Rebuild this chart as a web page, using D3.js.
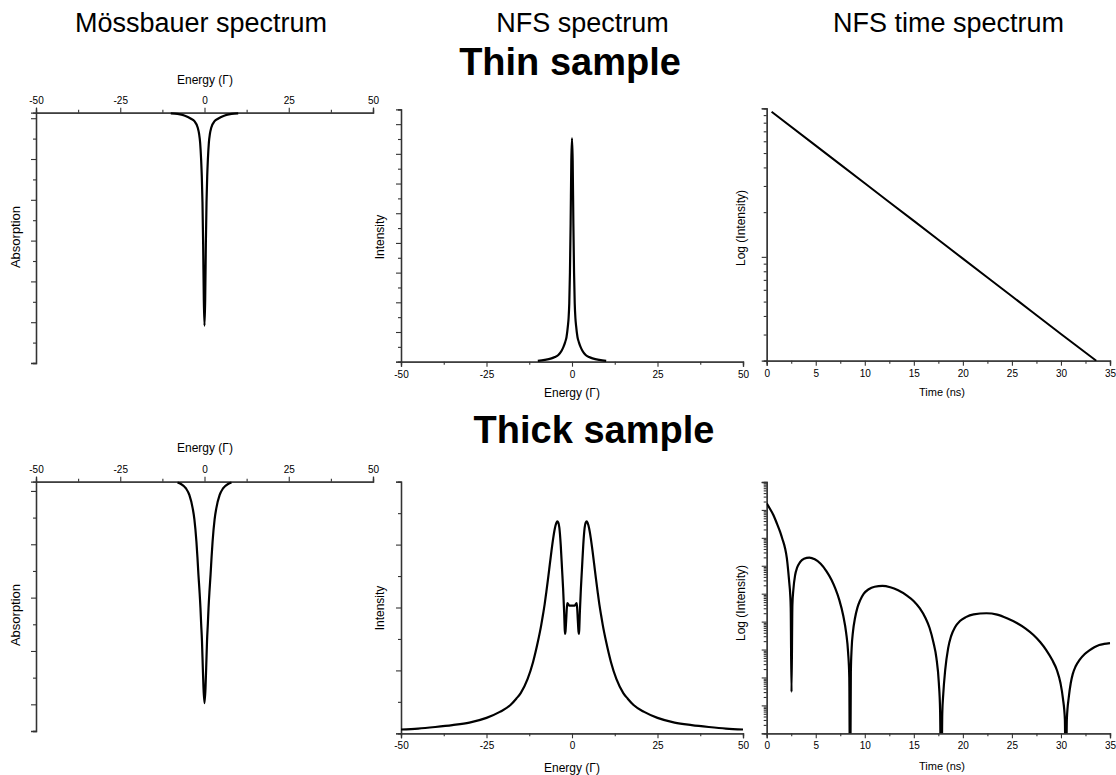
<!DOCTYPE html>
<html><head><meta charset="utf-8">
<script src="https://cdn.jsdelivr.net/npm/d3@7/dist/d3.min.js"></script>
<style>
body{margin:0;background:#fff}
svg{display:block}
text{font-family:Arial,"Liberation Sans",sans-serif;fill:#000}
</style>
</head><body>
<svg id="c" width="1116" height="775"></svg>
<script>
// ---------------- DATA ----------------
// Thin sample – Mössbauer absorption spectrum (energy in Γ, absorption)
const thinMossEnergy = [-10,-8,-6,-4,-3,-2,-1.6,-1.3,-1,-0.8,-0.6,-0.4,-0.2,0,0.2,0.4,0.6,0.8,1,1.3,1.6,2,3,4,6,8,10];
const thinMossAbs    = [0.0026,0.005,0.011,0.024,0.034,0.060,0.085,0.119,0.187,0.255,0.357,0.528,0.749,0.851,0.749,0.528,0.357,0.255,0.187,0.119,0.085,0.060,0.034,0.024,0.011,0.005,0.0026];
// Thin sample – NFS energy spectrum
const thinNfsEnergy = [-10,-8,-6,-5,-4,-3,-2.5,-2,-1.6,-1.2,-1,-0.8,-0.6,-0.4,-0.2,0,0.2,0.4,0.6,0.8,1,1.2,1.6,2,2.5,3,4,5,6,8,10];
const thinNfsInt    = [0.006,0.012,0.0226,0.0316,0.0452,0.0753,0.0993,0.132,0.166,0.241,0.293,0.391,0.602,0.933,1.354,1.505,1.354,0.933,0.602,0.391,0.293,0.241,0.166,0.132,0.0993,0.0753,0.0452,0.0316,0.0226,0.012,0.006];
// Thin sample – NFS time spectrum (log10 intensity)
const thinTime       = [0.5,5,10,15,20,25,30,33.6];
const thinTimeLogInt = [1.977,1.749,1.495,1.242,0.988,0.735,0.481,0.301];
// Thick sample – Mössbauer absorption spectrum
const thickMossEnergy = [-8,-7,-5.5,-4.5,-3.5,-3,-2.4,-2.1,-1.8,-1.5,-1.2,-1,-0.75,-0.5,-0.3,0,0.3,0.5,0.75,1,1.2,1.5,1.8,2.1,2.4,3,3.5,4.5,5.5,7,8];
const thickMossAbs    = [0.003,0.009,0.027,0.053,0.107,0.151,0.240,0.302,0.373,0.435,0.506,0.568,0.639,0.746,0.826,0.888,0.826,0.746,0.639,0.568,0.506,0.435,0.373,0.302,0.240,0.151,0.107,0.053,0.027,0.009,0.003];
// Thick sample – NFS energy spectrum
const thickNfsEnergy = [-50,-45,-40,-35,-30,-25,-21.1,-18,-16.3,-15,-13,-11.4,-10,-9,-8.5,-8,-7.5,-7,-6.5,-6,-5.5,-5,-4.6,-4.3,-4,-3.7,-3.3,-2.9,-2.6,-2.3,-2.1,-2,-1.9,-1.7,-1.5,-1.35,-0.8,0,
                         0.8,1.35,1.5,1.7,1.9,2,2.1,2.3,2.6,2.9,3.3,3.7,4,4.3,4.6,5,5.5,6,6.5,7,7.5,8,8.5,9,10,11.4,13,15,16.3,18,21.1,25,30,35,40,45,50];
const thickNfsInt    = [0.06,0.075,0.10,0.13,0.17,0.245,0.34,0.45,0.55,0.64,0.86,1.13,1.45,1.72,1.88,2.05,2.25,2.46,2.68,2.90,3.10,3.26,3.34,3.37,3.35,3.27,3.0,2.6,2.3,1.93,1.63,1.58,1.62,1.8,2.0,2.07,2.03,2.03,
                         2.03,2.07,2.0,1.8,1.62,1.58,1.63,1.93,2.3,2.6,3.0,3.27,3.35,3.37,3.34,3.26,3.10,2.90,2.68,2.46,2.25,2.05,1.88,1.72,1.45,1.13,0.86,0.64,0.55,0.45,0.34,0.245,0.17,0.13,0.10,0.075,0.06];
// Thick sample – NFS time spectrum (quantum beats, log10 intensity)
const thickTime = [0,0.3,0.68,1.0,1.36,1.6,1.87,2.05,2.2,2.3,2.4,2.45,2.53,2.62,2.72,2.9,3.1,3.4,3.8,4.35,4.9,5.5,6.1,6.6,7.0,7.4,7.8,8.1,8.3,8.42,8.5,
                   8.58,8.66,8.8,9.0,9.25,9.51,9.9,10.4,11.0,11.8,12.6,13.4,14.3,15.0,15.6,16.2,16.6,17.0,17.3,17.55,17.68,17.8,
                   17.9,18.0,18.2,18.5,18.8,19.2,19.7,20.3,21.1,22.4,23.5,24.5,25.5,26.4,27.2,27.9,28.5,29.1,29.6,29.95,30.2,30.4,30.5,
                   30.6,30.8,31.0,31.2,31.5,31.9,32.4,32.9,33.4,33.9,34.4,35];
const thickTimeLogInt = [0.24,0.06,-0.18,-0.45,-0.78,-1.04,-1.37,-1.72,-2.21,-2.6,-3.05,-3.52,-6.52,-3.4,-2.85,-2.33,-2.07,-1.87,-1.75,-1.71,-1.77,-1.93,-2.2,-2.5,-2.82,-3.22,-3.78,-4.4,-5.1,-6.0,-11,
                   -5.8,-4.96,-4.35,-3.88,-3.5,-3.25,-3.0,-2.84,-2.75,-2.72,-2.77,-2.88,-3.07,-3.27,-3.52,-3.88,-4.22,-4.75,-5.3,-6.2,-7.2,-11,
                   -7.3,-6.6,-5.73,-4.95,-4.52,-4.2,-3.98,-3.84,-3.74,-3.70,-3.75,-3.88,-4.05,-4.25,-4.48,-4.74,-5.02,-5.37,-5.75,-6.2,-6.75,-7.5,-11,
                   -7.5,-6.7,-6.2,-5.88,-5.6,-5.37,-5.17,-5.03,-4.92,-4.84,-4.8,-4.77];

// Tick labels
const energyTicks = [-50,-25,0,25,50];
const energyMinor = [-37.5,-12.5,12.5,37.5];
const timeTicks = [0,5,10,15,20,25,30,35];
const timeMinor = [2.5,7.5,12.5,17.5,22.5,27.5,32.5];

// Texts
const colTitles = ["Mössbauer spectrum","NFS spectrum","NFS time spectrum"];
const rowTitles = ["Thin sample","Thick sample"];

// ---------------- DRAWING ----------------
const svg = d3.select('#c');
const AX = '#333';
let clipN = 0;

function zip(a,b){ return a.map((v,i)=>[v,b[i]]); }

function xAxis(x, yPos, top, major, minor){
  const mk = () => top ? d3.axisTop(x) : d3.axisBottom(x);
  svg.append('g').attr('transform',`translate(0,${yPos})`)
    .call(mk().tickValues(major).tickSize(5).tickPadding(4).tickFormat(d=>String(d)));
  svg.append('g').attr('transform',`translate(0,${yPos})`)
    .call(mk().tickValues(minor).tickSize(3).tickFormat(''));
}
function yAxis(y, xPos, major, minor){
  svg.append('g').attr('transform',`translate(${xPos},0)`)
    .call(d3.axisLeft(y).tickValues(major).tickSize(5).tickFormat(''));
  svg.append('g').attr('transform',`translate(${xPos},0)`)
    .call(d3.axisLeft(y).tickValues(minor).tickSize(3).tickFormat(''));
}
function logTicks(lo, hi){
  const maj=[], mn=[];
  for(let e=Math.floor(lo); e<=Math.ceil(hi); e++){
    for(let k=1;k<=9;k++){
      const v = e + Math.log10(k);
      if(v < lo-1e-9 || v > hi+1e-9) continue;
      (k===1 ? maj : mn).push(v);
    }
  }
  return [maj, mn];
}
function curve(x,y,data,clipRect,w){
  const id='cl'+(clipN++);
  svg.append('clipPath').attr('id',id).append('rect')
    .attr('x',clipRect[0]).attr('y',clipRect[1]).attr('width',clipRect[2]).attr('height',clipRect[3]);
  svg.append('path').datum(data)
    .attr('clip-path',`url(#${id})`)
    .attr('fill','none').attr('stroke','#000').attr('stroke-width',w||2).attr('stroke-linejoin','round')
    .attr('d',d3.line().x(d=>x(d[0])).y(d=>y(d[1])).curve(d3.curveMonotoneX));
}
function label(txt,x,y,size,rot,weight){
  const t = svg.append('text').text(txt).attr('font-size',size).attr('text-anchor','middle')
    .attr('dominant-baseline','central');
  if(weight) t.attr('font-weight',weight);
  if(rot) t.attr('transform',`translate(${x},${y}) rotate(-90)`);
  else t.attr('x',x).attr('y',y);
  return t;
}

// Titles
label(colTitles[0],201,23,27);
label(colTitles[1],582.5,23,27);
label(colTitles[2],948.5,23,27);
svg.append('text').text(rowTitles[0]).attr('x',570).attr('y',75).attr('text-anchor','middle').attr('font-size',38).attr('font-weight','bold');
svg.append('text').text(rowTitles[1]).attr('x',594).attr('y',443).attr('text-anchor','middle').attr('font-size',38).attr('font-weight','bold');

// ---- Panel 1: thin Mössbauer ----
{
  const x = d3.scaleLinear().domain([-50,50]).range([36,373]);
  const y = d3.scaleLinear().domain([0,1]).range([112.7,363]);
  const tk = d3.range(13).map(k=>1-k*0.0815);
  yAxis(y,36,tk.filter((d,i)=>i%2===0),tk.filter((d,i)=>i%2===1));
  xAxis(x,112.7,true,energyTicks,energyMinor);
  curve(x,y,zip(thinMossEnergy,thinMossAbs),[36,100,337,270],2.2);
  label('Energy (Γ)',205,80,12);
  label('Absorption',15,237,13,true);
}
// ---- Panel 2: thin NFS ----
{
  const x = d3.scaleLinear().domain([-50,50]).range([401,743]);
  const y = d3.scaleLinear().domain([0,1.7]).range([361.7,109.3]);
  const tk = d3.range(18).map(k=>k*0.1);
  yAxis(y,401,tk.filter((d,i)=>i%2===0),tk.filter((d,i)=>i%2===1));
  xAxis(x,361.7,false,energyTicks,energyMinor);
  curve(x,y,zip(thinNfsEnergy,thinNfsInt),[401,100,342,262],2.2);
  label('Energy (Γ)',572,393,12);
  label('Intensity',380,237,12,true);
}
// ---- Panel 3: thin time ----
{
  const x = d3.scaleLinear().domain([0,35]).range([766.7,1110]);
  const y = d3.scaleLinear().domain([Math.log10(2),2]).range([360.7,108.3]);
  const [maj,mn] = logTicks(Math.log10(2),2);
  yAxis(y,766.7,maj,mn);
  xAxis(x,360.7,false,timeTicks,timeMinor);
  curve(x,y,zip(thinTime,thinTimeLogInt),[766.7,100,344,261],2);
  label('Time (ns)',942,392,11);
  label('Log (Intensity)',741,228,12,true);
}
// ---- Panel 4: thick Mössbauer ----
{
  const x = d3.scaleLinear().domain([-50,50]).range([36,373]);
  const y = d3.scaleLinear().domain([0,1]).range([481.7,731]);
  const tk = d3.range(10).map(k=>1-k*0.107);
  yAxis(y,36,tk.filter((d,i)=>i%2===1),tk.filter((d,i)=>i%2===0));
  xAxis(x,481.7,true,energyTicks,energyMinor);
  curve(x,y,zip(thickMossEnergy,thickMossAbs),[36,470,337,262],2.2);
  label('Energy (Γ)',205,448,12);
  label('Absorption',15,615,13,true);
}
// ---- Panel 5: thick NFS ----
{
  const x = d3.scaleLinear().domain([-50,50]).range([401,743]);
  const y = d3.scaleLinear().domain([0,4]).range([733.3,481.7]);
  const tk = d3.range(9).map(k=>k*0.5);
  yAxis(y,401,tk.filter((d,i)=>i%2===0),tk.filter((d,i)=>i%2===1));
  xAxis(x,733.3,false,energyTicks,energyMinor);
  curve(x,y,zip(thickNfsEnergy,thickNfsInt),[401,470,342,264],2.2);
  label('Energy (Γ)',572,768,12);
  label('Intensity',380,608,12,true);
}
// ---- Panel 6: thick time ----
{
  const x = d3.scaleLinear().domain([0,35]).range([766.7,1110]);
  const y = d3.scaleLinear().domain([-8,1]).range([733.3,482]);
  const [maj,mn] = logTicks(-8,1);
  yAxis(y,766.7,maj,mn);
  xAxis(x,733.3,false,timeTicks,timeMinor);
  curve(x,y,zip(thickTime,thickTimeLogInt),[766.7,470,344,263.3],2.2);
  label('Time (ns)',942,766,11);
  label('Log (Intensity)',741,603,12,true);
}

// axis styling
svg.selectAll('.domain').attr('stroke',AX).attr('stroke-width',1.3);
svg.selectAll('.tick line').attr('stroke',AX).attr('stroke-width',1.1);
svg.selectAll('.tick text').attr('font-size',10).attr('fill','#000').attr('font-family','Arial, "Liberation Sans", sans-serif');
</script>
</body></html>
